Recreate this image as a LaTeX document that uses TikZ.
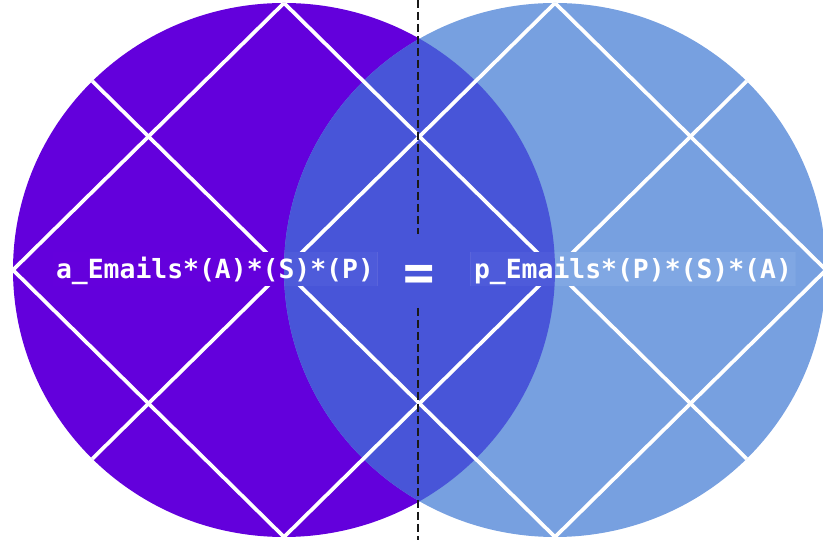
\documentclass[tikz,border=0pt]{standalone}
\usepackage{fontspec}
\setmonofont{DejaVu Sans Mono}
\usepackage{tikz}
\usetikzlibrary{positioning}
\definecolor{discA}{HTML}{6300DC}
\definecolor{discB}{HTML}{77A0E0}
\definecolor{discAB}{HTML}{4855D8}
\definecolor{hlA}{HTML}{6400DC}
\definecolor{hlB}{HTML}{80A7E3}
\definecolor{hlAB}{HTML}{4E5BDA}
\pgfdeclarelayer{labels}
\pgfsetlayers{main,labels}
\newcommand{\paintdiscs}[3]{%
  \fill[#1] (L) ellipse [x radius=271, y radius=267];
  \fill[#2] (R) ellipse [x radius=271, y radius=267];
  \begin{scope}
    \clip (L) ellipse [x radius=271, y radius=267];
    \fill[#3] (R) ellipse [x radius=271, y radius=267];
  \end{scope}}
\tikzset{
  gridline/.style={white, line width=3.7pt},
  cutline/.style={black!90, line width=2.1pt, dash pattern=on 8pt off 4pt},
  eqlabel/.style={font=\ttfamily\bfseries\fontsize{26.4}{26}\selectfont, text=white,
                  inner xsep=3.5pt, inner ysep=0pt, text height=26pt, text depth=6pt, anchor=base},
  eqsign/.style={font=\ttfamily\bfseries\fontsize{52}{52}\selectfont, text=white, anchor=base},
}
\begin{document}
\begin{tikzpicture}[x=1pt, y=1pt]
  \useasboundingbox (0,0) rectangle (823,540);
  \coordinate (L) at (284,270);
  \coordinate (R) at (555,270);
  \foreach \c in {L,R}
    \foreach \ang/\dir in {0/e,45/ne,90/n,135/nw,180/w,225/sw,270/s,315/se}
      \path (\c) ++(\ang:271 and 267) coordinate (\c\dir);
  \paintdiscs{discA}{discB}{discAB}
  % grid of diagonals, kept inside the two discs
  \begin{scope}
    \clip (L) ellipse [x radius=271, y radius=267] (R) ellipse [x radius=271, y radius=267];
    \draw[gridline] (Ln) -- (Lw) -- (Ls);
    \draw[gridline] (Rn) -- (Re) -- (Rs);
    \draw[gridline] (Rn) -- (Lsw);
    \draw[gridline] (Rne) -- (Ls);
    \draw[gridline] (Lnw) -- (Rs);
    \draw[gridline] (Ln) -- (Rse);
  \end{scope}
  \begin{pgfonlayer}{labels}
    \node[eqlabel] (lhs) at (215,261) {a\_Emails*(A)*(S)*(P)};
    \node[eqlabel] (rhs) at (633,261) {p\_Emails*(P)*(S)*(A)};
    \node[eqsign] (eq) at (419.5,249.5) {=};
  \end{pgfonlayer}
  \foreach \b in {lhs,rhs}{
    \begin{scope}
      \clip (\b.south west) rectangle (\b.north east);
      \paintdiscs{hlA}{hlB}{hlAB}
    \end{scope}}
  \coordinate (cutA) at (418,540);
  \coordinate (cutB) at (418,306);
  \coordinate (cutC) at (418,232);
  \coordinate (cutD) at (418,0);
  \draw[cutline] (cutA) -- (cutB);
  \draw[cutline] (cutC) -- (cutD);
\end{tikzpicture}
\end{document}
